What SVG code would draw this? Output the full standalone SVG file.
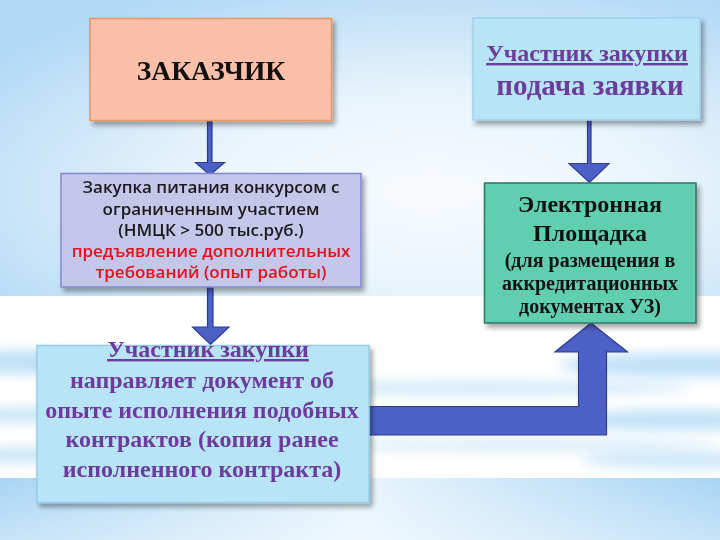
<svg xmlns="http://www.w3.org/2000/svg" width="720" height="540" viewBox="0 0 720 540">
  <defs>
    <radialGradient id="bgTop" cx="0.6" cy="0.65" r="0.75">
      <stop offset="0" stop-color="#f9fcff"/>
      <stop offset="0.45" stop-color="#e8f4fc"/>
      <stop offset="1" stop-color="#b2d9f5"/>
    </radialGradient>
    <linearGradient id="bgBot" x1="0" y1="0" x2="1" y2="0">
      <stop offset="0" stop-color="#a8d5f4"/>
      <stop offset="0.5" stop-color="#e8f5fd"/>
      <stop offset="1" stop-color="#a8d5f4"/>
    </linearGradient>
    <linearGradient id="bgBotV" x1="0" y1="0" x2="0" y2="1">
      <stop offset="0" stop-color="#ffffff" stop-opacity="0"/>
      <stop offset="1" stop-color="#ffffff" stop-opacity="0.35"/>
    </linearGradient>
    <filter id="blur" x="-20%" y="-200%" width="140%" height="500%">
      <feGaussianBlur stdDeviation="6"/>
    </filter>
    <filter id="shadow" x="-10%" y="-10%" width="125%" height="130%">
      <feDropShadow dx="3" dy="4" stdDeviation="2.5" flood-color="#000" flood-opacity="0.35"/>
    </filter>
    <style>
      .box { stroke-width: 1.5; filter: url(#shadow); }
      .serif { font-family: "Liberation Serif", "Times New Roman", serif; font-weight: bold; text-anchor: middle; }
      .sans { font-family: "Open Sans", "Liberation Sans", sans-serif; font-weight: 600; text-anchor: middle; font-size: 17px; }
      .purple { fill: #6c3b9c; }
      .arrow { fill: #4d60c6; stroke: #2c3c94; stroke-width: 1.2; stroke-linejoin: miter; }
    </style>
  </defs>

  <!-- background -->
  <g id="background">
    <rect x="0" y="0" width="720" height="296" fill="url(#bgTop)"/>
    <rect x="0" y="296" width="720" height="182" fill="#ffffff"/>
    <g filter="url(#blur)" fill="#bfe1f7">
      <ellipse cx="40" cy="362" rx="110" ry="12"/>
      <ellipse cx="690" cy="365" rx="130" ry="12"/>
      <ellipse cx="480" cy="388" rx="210" ry="7" opacity="0.7"/>
      <ellipse cx="30" cy="415" rx="90" ry="8" opacity="0.8"/>
      <ellipse cx="680" cy="420" rx="120" ry="10"/>
      <ellipse cx="520" cy="445" rx="200" ry="6" opacity="0.6"/>
      <ellipse cx="690" cy="460" rx="110" ry="8" opacity="0.8"/>
      <ellipse cx="20" cy="455" rx="60" ry="8" opacity="0.8"/>
    </g>
    <rect x="0" y="478" width="720" height="62" fill="url(#bgBot)"/>
    <rect x="0" y="478" width="720" height="62" fill="url(#bgBotV)"/>
  </g>

  <!-- connectors -->
  <g id="connectors">
    <polygon class="arrow" points="207.5,121 212,121 212,162.5 224.5,162.5 210,175 195.5,162.5 207.5,162.5"/>
    <polygon class="arrow" points="207.5,287 213,287 213,327 229,327 210.5,344.5 192.5,327 207.5,327"/>
    <polygon class="arrow" points="587.5,120 591,120 591,163.5 609,163.5 589.5,182.5 569,163.5 587.5,163.5"/>
    <polygon class="arrow" points="368,406.5 578.5,406.5 578.5,352 555,352 591,323 627.5,352 606.5,352 606.5,435 368,435"/>
  </g>

  <!-- ЗАКАЗЧИК -->
  <g id="node-customer">
    <rect class="box" x="90" y="18.5" width="241.5" height="102" fill="#fbbfaa" stroke="#f0935f"/>
    <text class="serif" x="211" y="80" font-size="27.5" fill="#111">ЗАКАЗЧИК</text>
  </g>

  <!-- Участник закупки подача заявки -->
  <g id="node-bid">
    <rect class="box" x="473" y="18" width="227" height="102" fill="#b8e4f8" stroke="#9fd2ec"/>
    <text class="serif purple" x="587" y="61" font-size="24" text-decoration="underline">Участник закупки</text>
    <text class="serif purple" x="590" y="95" font-size="29">подача заявки</text>
  </g>

  <!-- Закупка питания -->
  <g id="node-purchase">
    <rect class="box" x="61" y="173.5" width="300" height="113.5" fill="#c4c6ea" stroke="#8189cf"/>
    <text class="sans" x="211" y="193" fill="#1a1a1a">Закупка питания конкурсом с</text>
    <text class="sans" x="211" y="214.5" fill="#1a1a1a">ограниченным участием</text>
    <text class="sans" x="211" y="236" fill="#1a1a1a">(НМЦК &gt; 500 тыс.руб.)</text>
    <text class="sans" x="211" y="257" fill="#e8101a">предъявление дополнительных</text>
    <text class="sans" x="211" y="278" fill="#e8101a">требований (опыт работы)</text>
  </g>

  <!-- Электронная Площадка -->
  <g id="node-platform">
    <rect class="box" x="484.5" y="183" width="211.5" height="140" fill="#5ecfaf" stroke="#2b7763"/>
    <text class="serif" x="590" y="212" font-size="24" fill="#111">Электронная</text>
    <text class="serif" x="590" y="241" font-size="24" fill="#111">Площадка</text>
    <text class="serif" x="590" y="266.5" font-size="20" fill="#111">(для размещения в</text>
    <text class="serif" x="590" y="289.5" font-size="20" fill="#111">аккредитационных</text>
    <text class="serif" x="590" y="312.5" font-size="20" fill="#111">документах УЗ)</text>
  </g>

  <!-- Участник закупки направляет документ -->
  <g id="node-participant">
    <rect class="box" x="37" y="345.5" width="332" height="157" fill="#b8e4f8" stroke="#98cde9"/>
    <text class="serif purple" x="208" y="357" font-size="24" text-decoration="underline">Участник закупки</text>
    <text class="serif purple" x="202" y="388" font-size="24">направляет документ об</text>
    <text class="serif purple" x="202" y="417.5" font-size="24">опыте исполнения подобных</text>
    <text class="serif purple" x="202" y="447" font-size="24">контрактов (копия ранее</text>
    <text class="serif purple" x="202" y="476.5" font-size="24">исполненного контракта)</text>
  </g>
</svg>
